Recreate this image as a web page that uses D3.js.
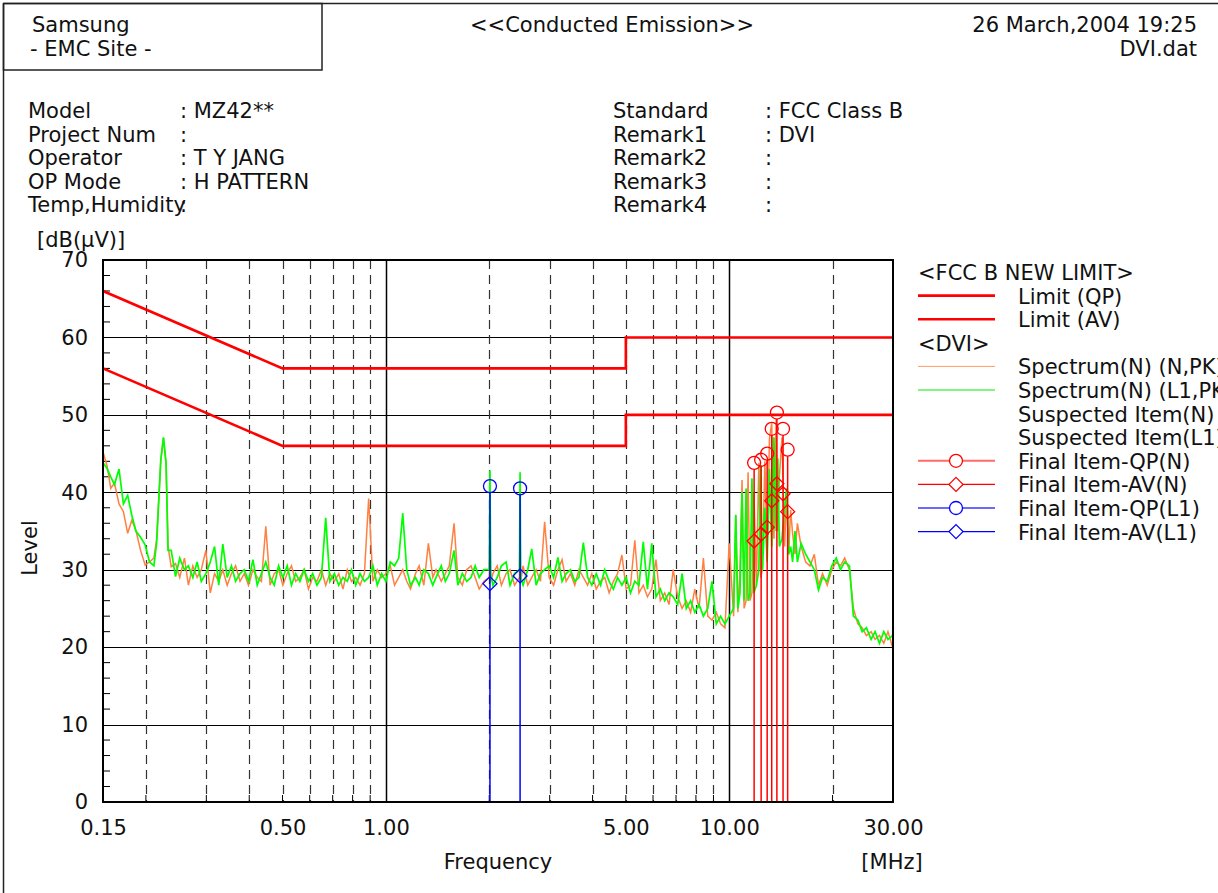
<!DOCTYPE html>
<html>
<head>
<meta charset="utf-8">
<script src="https://cdn.jsdelivr.net/npm/d3@7"></script>
<style>
  body { margin: 0; background: #fff; }
  svg text { font-family: "DejaVu Sans", sans-serif; font-size: 21px; fill: #111; }
</style>
</head>
<body>
<svg width="1218" height="893"></svg>
<script>
// frequencies (MHz) of the scanned spectrum points
var freqs = [
  0.150,0.154,0.158,0.162,0.167,0.172,0.177,0.182,0.187,0.193,
  0.199,0.205,0.211,0.215,0.221,0.225,0.229,0.232,0.237,0.244,
  0.251,0.259,0.266,0.274,0.282,0.290,0.299,0.308,0.317,0.326,
  0.335,0.345,0.355,0.365,0.376,0.387,0.398,0.410,0.422,0.434,
  0.447,0.460,0.473,0.487,0.501,0.516,0.531,0.546,0.562,0.578,
  0.595,0.612,0.630,0.649,0.668,0.687,0.708,0.729,0.750,0.772,
  0.794,0.817,0.841,0.866,0.891,0.917,0.944,0.972,
  1.00,1.03,1.06,1.09,1.12,1.15,1.18,1.22,1.25,1.29,
  1.33,1.37,1.40,1.45,1.49,1.53,1.58,1.62,1.67,1.72,
  1.77,1.82,1.87,1.93,2.00,2.01,2.02,2.05,2.11,2.17,
  2.24,2.30,2.37,2.45,2.46,2.47,2.51,2.59,2.66,2.74,
  2.82,2.90,2.99,3.08,3.17,3.26,3.35,3.45,3.55,3.65,
  3.76,3.87,3.98,4.10,4.22,4.34,4.47,4.60,4.73,4.87,
  5.01,5.16,5.31,5.46,5.62,5.78,5.95,6.12,6.30,6.49,
  6.68,6.87,7.08,7.29,7.50,7.72,7.94,8.17,8.41,8.66,
  8.91,9.17,9.44,9.72,
  10.0,10.3,10.45,10.6,10.75,10.9,11.05,11.2,11.35,11.5,
  11.65,11.8,12.0,12.2,12.35,12.5,12.7,12.9,13.1,13.3,
  13.5,13.7,13.85,14.0,14.25,14.5,14.7,14.9,15.1,15.3,
  15.55,15.8,16.2,16.7,17.2,17.7,18.2,18.7,19.3,19.9,
  20.5,21.1,21.7,22.4,23.0,23.7,24.4,25.1,25.9,26.6,
  27.4,28.2,29.0,29.9,30.0
];

// Spectrum(N) (N,PK) levels, dB(uV)
var levelN = [
  45.2,43.5,40.5,41.2,38.5,37.5,34.7,36.4,35.1,32.5,
  30.6,31.0,31.5,34.0,44.0,47.0,43.5,33.0,30.4,30.8,
  29.0,31.5,28.0,30.5,29.0,30.0,32.5,27.0,29.5,28.5,
  30.0,28.0,29.5,30.5,28.5,29.5,28.0,30.0,29.0,28.5,
  35.6,28.0,29.5,30.0,28.0,29.5,30.5,28.5,29.0,30.0,
  27.5,29.0,28.5,30.0,28.0,29.5,28.5,29.5,27.5,30.0,
  28.5,29.0,28.0,29.5,39.2,28.5,30.0,29.0,
  29.5,30.5,28.0,29.0,30.0,28.5,27.5,29.5,30.5,28.0,
  33.4,29.0,30.0,28.5,29.5,30.5,36.0,29.0,28.0,30.0,
  30.5,29.0,27.5,28.5,29.0,35.0,28.5,29.5,30.5,28.0,
  29.5,30.0,28.0,29.0,36.0,28.5,30.5,28.0,29.0,30.0,
  28.5,36.2,29.0,28.0,30.0,31.3,28.5,29.5,28.0,30.0,
  29.0,28.0,29.5,27.5,28.5,29.0,27.0,28.5,29.5,31.9,
  27.5,28.0,33.8,27.0,28.0,26.5,27.5,31.3,26.0,27.0,
  25.5,30.0,26.5,25.0,26.0,24.5,27.5,25.0,31.5,24.0,
  23.5,24.5,23.0,22.5,
  33.4,24.0,37.0,24.5,30.0,41.6,25.0,26.0,42.6,26.0,
  27.0,40.0,28.0,43.8,29.0,30.0,44.0,32.0,47.0,48.9,
  34.0,49.5,35.0,42.0,47.1,33.0,40.0,32.0,37.7,34.7,
  32.0,36.0,33.0,31.0,30.5,32.0,28.0,29.5,28.0,30.0,
  31.0,30.5,31.5,30.0,25.0,23.0,22.5,21.5,22.0,21.0,
  21.5,20.5,22.0,20.0,20.5
];

// Spectrum(N) (L1,PK) levels, dB(uV)
var levelL1 = [
  43.8,43.1,42.0,41.0,43.0,38.5,39.6,37.0,35.0,34.2,
  33.2,31.0,30.5,33.5,44.2,47.1,43.8,32.5,32.5,29.1,
  31.5,30.0,30.5,29.0,31.0,28.5,29.5,31.0,33.0,28.0,
  33.3,29.0,30.5,28.5,29.5,30.0,28.5,31.3,28.0,29.5,
  31.0,29.0,28.0,30.5,29.0,30.5,28.0,29.5,28.5,30.0,
  28.5,29.5,28.0,29.0,36.7,28.5,29.5,28.0,29.0,28.5,
  30.0,28.0,29.5,28.5,29.0,30.5,28.0,29.5,
  28.5,31.0,30.5,31.5,37.3,30.0,28.0,29.0,28.0,30.0,
  29.5,28.0,29.0,30.5,28.5,29.5,32.5,28.0,29.5,28.5,
  29.0,30.5,29.0,30.0,30.0,42.8,29.5,28.0,29.0,30.5,
  31.0,28.0,29.5,30.0,42.6,29.0,28.0,30.0,32.7,28.0,
  29.5,30.0,30.5,29.0,31.6,28.5,29.5,30.0,28.5,29.0,
  33.5,29.0,28.0,29.5,28.0,30.0,28.5,27.5,29.0,28.0,
  29.0,27.0,28.5,28.0,33.6,27.5,33.4,26.5,27.5,26.0,
  27.0,26.5,25.5,29.5,25.0,26.0,24.5,25.5,24.0,25.0,
  28.5,23.0,24.0,23.0,
  24.0,25.0,37.1,25.0,27.0,40.0,26.0,40.5,26.0,27.0,
  41.8,27.0,28.0,30.0,43.5,30.0,38.0,31.0,43.0,33.0,
  47.1,35.0,44.4,33.0,34.0,38.0,40.5,32.0,33.0,31.0,
  35.0,31.0,33.4,32.0,31.0,30.0,27.4,29.0,28.5,30.5,
  31.5,30.0,31.0,30.5,24.0,23.5,22.0,22.5,21.0,22.0,
  20.5,22.0,21.0,21.5,22.0
];

// FCC class B limits (frequency, level)
var limitQP = [[0.15, 66], [0.5, 56], [5, 56], [5, 60], [30, 60]];
var limitAV = [[0.15, 56], [0.5, 46], [5, 46], [5, 50], [30, 50]];

// final measurements, line N (red) and L1 (blue)
var finalFreqN = [11.82, 12.39, 12.9, 13.3, 13.77, 14.35, 14.8];
var finalQPN = [43.8, 44.2, 45.0, 48.2, 50.3, 48.2, 45.5];
var finalAVN = [33.7, 34.6, 35.5, 38.9, 41.1, 39.8, 37.5];
var finalFreqL1 = [2.01, 2.46];
var finalQPL1 = [40.8, 40.5];
var finalAVL1 = [28.2, 29.2];

var xTickLabels = [0.15, 0.5, 1, 5, 10, 30];
var xGridDashed = [0.2, 0.3, 0.4, 0.5, 0.6, 0.7, 0.8, 0.9, 2, 3, 4, 5, 6, 7, 8, 9, 20];
var xGridSolid = [1, 10];
var yTicks = [0, 10, 20, 30, 40, 50, 60, 70];
var yMinor = [2, 4, 6, 8, 12, 14, 16, 18, 22, 24, 26, 28, 32, 34, 36, 38, 42, 44, 46, 48, 52, 54, 56, 58, 62, 64, 66, 68];

var infoLeft = [["Model", ": MZ42**"], ["Project Num", ":"], ["Operator", ": T Y JANG"], ["OP Mode", ": H PATTERN"], ["Temp,Humidity", ":"]];
var infoRight = [["Standard", ": FCC Class B"], ["Remark1", ": DVI"], ["Remark2", ":"], ["Remark3", ":"], ["Remark4", ":"]];

var svg = d3.select('svg');

var x = d3.scaleLog().domain([0.15, 30]).range([103, 893]);
var y = d3.scaleLinear().domain([0, 70]).range([802, 260]);

// page frame and header box
svg.append('line').attr('x1', 3.5).attr('y1', 3.5).attr('x2', 1218).attr('y2', 3.5).attr('stroke', '#222').attr('stroke-width', 1.5);
svg.append('line').attr('x1', 3.5).attr('y1', 3.5).attr('x2', 3.5).attr('y2', 893).attr('stroke', '#222').attr('stroke-width', 1.5);
svg.append('rect').attr('x', 3.5).attr('y', 3.5).attr('width', 318.5).attr('height', 66.5)
  .attr('fill', 'none').attr('stroke', '#222').attr('stroke-width', 1.5);

svg.append('text').attr('x', 32).attr('y', 32).text('Samsung');
svg.append('text').attr('x', 30).attr('y', 56).text('- EMC Site -');
svg.append('text').attr('x', 612).attr('y', 32).attr('text-anchor', 'middle').text('<<Conducted Emission>>');
svg.append('text').attr('x', 1197).attr('y', 32).attr('text-anchor', 'end').text('26 March,2004 19:25');
svg.append('text').attr('x', 1197).attr('y', 56).attr('text-anchor', 'end').text('DVI.dat');

infoLeft.forEach(function(d, i) {
  svg.append('text').attr('x', 28).attr('y', 118 + i * 23.6).text(d[0]);
  svg.append('text').attr('x', 180).attr('y', 118 + i * 23.6).text(d[1]);
});
infoRight.forEach(function(d, i) {
  svg.append('text').attr('x', 613).attr('y', 118 + i * 23.6).text(d[0]);
  svg.append('text').attr('x', 765).attr('y', 118 + i * 23.6).text(d[1]);
});

svg.append('text').attr('x', 37).attr('y', 247).text('[dB(\u03BCV)]');

// grid
var grid = svg.append('g');
grid.selectAll('.hg').data(yTicks.slice(1, -1)).enter().append('line')
  .attr('x1', 103).attr('x2', 893)
  .attr('y1', function(d) { return Math.round(y(d)) + 0.5; })
  .attr('y2', function(d) { return Math.round(y(d)) + 0.5; })
  .attr('stroke', '#000').attr('stroke-width', 1.2);
grid.selectAll('.vd').data(xGridDashed).enter().append('line')
  .attr('x1', function(d) { return Math.round(x(d)) + 0.5; })
  .attr('x2', function(d) { return Math.round(x(d)) + 0.5; })
  .attr('y1', 260).attr('y2', 802)
  .attr('stroke', '#333').attr('stroke-width', 1.2).attr('stroke-dasharray', '9,6');
grid.selectAll('.vs').data(xGridSolid).enter().append('line')
  .attr('x1', function(d) { return Math.round(x(d)) + 0.5; })
  .attr('x2', function(d) { return Math.round(x(d)) + 0.5; })
  .attr('y1', 260).attr('y2', 802)
  .attr('stroke', '#000').attr('stroke-width', 1.5);

// minor ticks
grid.selectAll('.ym').data(yMinor).enter().append('line')
  .attr('x1', 103).attr('x2', 110)
  .attr('y1', function(d) { return y(d); }).attr('y2', function(d) { return y(d); })
  .attr('stroke', '#000').attr('stroke-width', 1);
grid.selectAll('.xm').data(xGridDashed).enter().append('line')
  .attr('x1', function(d) { return x(d); }).attr('x2', function(d) { return x(d); })
  .attr('y1', 802).attr('y2', 795)
  .attr('stroke', '#000').attr('stroke-width', 1);

// clip for traces
svg.append('clipPath').attr('id', 'plotclip').append('rect')
  .attr('x', 103).attr('y', 260).attr('width', 790).attr('height', 542);

var plot = svg.append('g').attr('clip-path', 'url(#plotclip)');

var line = d3.line()
  .x(function(d) { return x(d[0]); })
  .y(function(d) { return y(d[1]); });

plot.append('path')
  .datum(freqs.map(function(f, i) { return [f, levelN[i]]; }))
  .attr('d', line).attr('fill', 'none').attr('stroke', '#ff8040').attr('stroke-width', 1.5);
plot.append('path')
  .datum(freqs.map(function(f, i) { return [f, levelL1[i]]; }))
  .attr('d', line).attr('fill', 'none').attr('stroke', '#00ff00').attr('stroke-width', 1.7);

plot.append('path').datum(limitQP).attr('d', line)
  .attr('fill', 'none').attr('stroke', '#ff0000').attr('stroke-width', 2.6);
plot.append('path').datum(limitAV).attr('d', line)
  .attr('fill', 'none').attr('stroke', '#ff0000').attr('stroke-width', 2.6);

var diamond = function(cx, cy, r) {
  return 'M' + cx + ',' + (cy - r) + 'L' + (cx + r) + ',' + cy + 'L' + cx + ',' + (cy + r) + 'L' + (cx - r) + ',' + cy + 'Z';
};

function finals(fs, qp, av, color) {
  var g = svg.append('g');
  g.selectAll('.stem').data(fs).enter().append('line')
    .attr('x1', function(d) { return x(d); }).attr('x2', function(d) { return x(d); })
    .attr('y1', 802).attr('y2', function(d, i) { return y(qp[i]) + 6.5; })
    .attr('stroke', color).attr('stroke-width', 1.5);
  g.selectAll('.qp').data(fs).enter().append('circle')
    .attr('cx', function(d) { return x(d); })
    .attr('cy', function(d, i) { return y(qp[i]); })
    .attr('r', 6.5).attr('fill', 'none').attr('stroke', color).attr('stroke-width', 1.3);
  g.selectAll('.av').data(fs).enter().append('path')
    .attr('d', function(d, i) { return diamond(x(d), y(av[i]), 7); })
    .attr('fill', 'none').attr('stroke', color).attr('stroke-width', 1.3);
}
finals(finalFreqN, finalQPN, finalAVN, '#ff0000');
finals(finalFreqL1, finalQPL1, finalAVL1, '#0000ff');

// frame
svg.append('rect').attr('x', 103).attr('y', 260).attr('width', 790).attr('height', 542)
  .attr('fill', 'none').attr('stroke', '#000').attr('stroke-width', 2);

// axes labels
var yAxis = d3.axisLeft(y).tickValues(yTicks).tickSize(0).tickPadding(15);
var gy = svg.append('g').attr('transform', 'translate(103,0)').call(yAxis);
gy.select('.domain').remove();
gy.selectAll('text').style('font-family', '"DejaVu Sans", sans-serif').style('font-size', '21px').attr('fill', '#111');

var xAxis = d3.axisBottom(x).tickValues(xTickLabels).tickSize(0).tickPadding(18)
  .tickFormat(d3.format('.2f'));
var gx = svg.append('g').attr('transform', 'translate(0,802)').call(xAxis);
gx.select('.domain').remove();
gx.selectAll('text').style('font-family', '"DejaVu Sans", sans-serif').style('font-size', '21px').attr('fill', '#111');

svg.append('text').attr('x', 498).attr('y', 869).attr('text-anchor', 'middle').text('Frequency');
svg.append('text').attr('x', 892).attr('y', 869).attr('text-anchor', 'middle').text('[MHz]');
svg.append('text').attr('transform', 'translate(37,548) rotate(-90)').attr('text-anchor', 'middle').text('Level');

// legend
var legendItems = [
  { label: '<FCC B NEW LIMIT>', head: true },
  { label: 'Limit (QP)', color: '#ff0000', w: 2.6 },
  { label: 'Limit (AV)', color: '#ff0000', w: 2.6 },
  { label: '<DVI>', head: true },
  { label: 'Spectrum(N) (N,PK)', color: '#ff9a66', w: 1 },
  { label: 'Spectrum(N) (L1,PK)', color: '#00ee00', w: 1 },
  { label: 'Suspected Item(N)' },
  { label: 'Suspected Item(L1)' },
  { label: 'Final Item-QP(N)', color: '#ff6a6a', w: 2, mark: 'circle', mc: '#ff0000' },
  { label: 'Final Item-AV(N)', color: '#ff0000', w: 1.2, mark: 'diamond', mc: '#ff0000' },
  { label: 'Final Item-QP(L1)', color: '#6a6aff', w: 2, mark: 'circle', mc: '#0000ff' },
  { label: 'Final Item-AV(L1)', color: '#0000ff', w: 1.2, mark: 'diamond', mc: '#0000ff' }
];
var lg = svg.append('g');
legendItems.forEach(function(d, i) {
  var cy = 272 + i * 23.6;
  if (d.head) {
    lg.append('text').attr('x', 918).attr('y', cy + 8).text(d.label);
    return;
  }
  if (d.color) {
    lg.append('line').attr('x1', 918).attr('x2', 995).attr('y1', cy).attr('y2', cy)
      .attr('stroke', d.color).attr('stroke-width', d.w);
  }
  if (d.mark === 'circle') {
    lg.append('circle').attr('cx', 956).attr('cy', cy).attr('r', 6.5)
      .attr('fill', '#fff').attr('stroke', d.mc).attr('stroke-width', 1.3);
  } else if (d.mark === 'diamond') {
    lg.append('path').attr('d', diamond(956, cy, 7))
      .attr('fill', '#fff').attr('stroke', d.mc).attr('stroke-width', 1.3);
  }
  lg.append('text').attr('x', 1018).attr('y', cy + 8).text(d.label);
});
</script>
</body>
</html>
